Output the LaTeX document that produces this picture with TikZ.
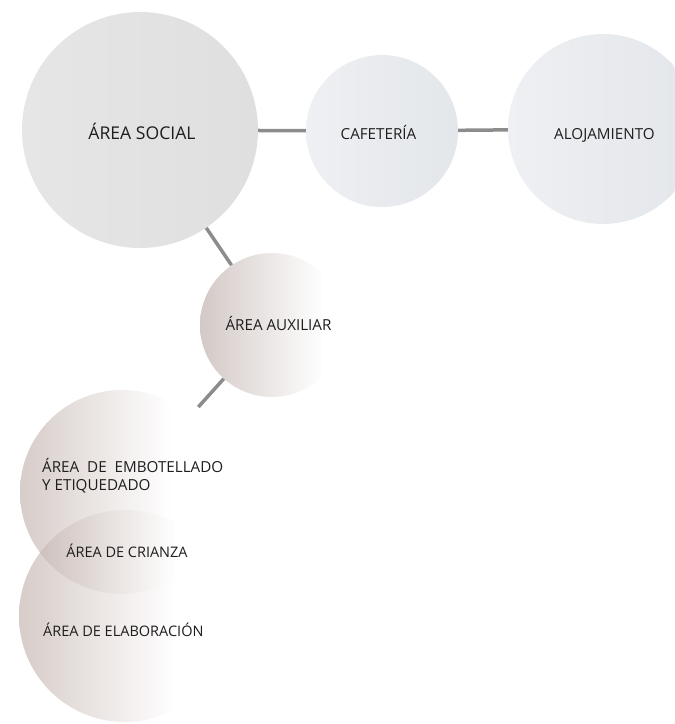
\documentclass[tikz,border=0pt]{standalone}
\usepackage{fontspec}
\setmainfont{Open Sans}
\definecolor{txt}{HTML}{1E1E1E}
\definecolor{linkgray}{HTML}{8C8C8C}
\definecolor{socL}{HTML}{E6E6E6}
\definecolor{socR}{HTML}{DFDFDF}
\definecolor{blueL}{HTML}{EEF0F3}
\definecolor{blueR}{HTML}{E3E6EA}
\definecolor{wineL}{HTML}{D3C9C6}
\definecolor{wineF}{HTML}{BCAAA4}
\pgfdeclarehorizontalshading{winefade}{100bp}{color(0bp)=(wineL); color(25bp)=(wineL); color(68bp)=(white); color(100bp)=(white)}
\pgfdeclarehorizontalshading{winefadeF}{100bp}{color(0bp)=(wineF); color(25bp)=(wineF); color(62bp)=(white); color(100bp)=(white)}
\begin{document}
\begin{tikzpicture}[
 x=1pt,y=-1pt,
 every node/.style={font=\fontsize{15.2}{18}\selectfont,text=txt},
 zone/.style={circle,inner sep=0pt},
 blend/.style={zone,shading=winefadeF,fill opacity=0.6},
 link/.style={draw=linkgray,line width=3.5pt},
 tag/.style={align=left,inner sep=0pt,anchor=base},
 small/.style={font=\fontsize{14.5}{18}\selectfont}
]
 \useasboundingbox (0,0) rectangle (675,724);
 \clip (0,0) rectangle (675,724);

 \node[zone,minimum size=236pt,left color=socL,right color=socR] (social) at (140,130) {};
 \node[zone,minimum size=152pt,left color=blueL,right color=blueR] (cafe) at (382,131) {};
 \node[zone,minimum size=190pt,left color=blueL,right color=blueR] (aloj) at (603,129) {};
 \node[zone,minimum size=144pt,shading=winefade] (aux) at (272,325) {};

 % the two lower areas overlap, the shared part is the aging area
 \node[blend,minimum size=204pt] (embot) at (122,492) {};
 \node[blend,minimum size=212pt] (elab) at (125,616) {};

 \node[tag,font=\fontsize{17.6}{20}\selectfont] (socialTxt) at (142,139) {ÁREA SOCIAL};
 \node[tag] (cafeTxt) at (378.5,139) {CAFETERÍA};
 \node[tag] (alojTxt) at (604.5,139) {ALOJAMIENTO};
 \node[tag] (auxTxt) at (278.5,330) {ÁREA AUXILIAR};
 \node[tag,anchor=base west] (embotTxt) at (42,490) {ÁREA \ DE \ EMBOTELLADO\\Y ETIQUEDADO};
 \node[tag,small] (crianzaTxt) at (127,557) {ÁREA DE CRIANZA};
 \node[tag,small,anchor=base west] (elabTxt) at (43,636) {ÁREA DE ELABORACIÓN};

 \draw[link] (social) -- (cafe);
 \draw[link] (cafe) -- (aloj);
 \draw[link] (social) -- (aux);
 \draw[link,shorten >=12pt] (aux) -- (embot);
\end{tikzpicture}
\end{document}
